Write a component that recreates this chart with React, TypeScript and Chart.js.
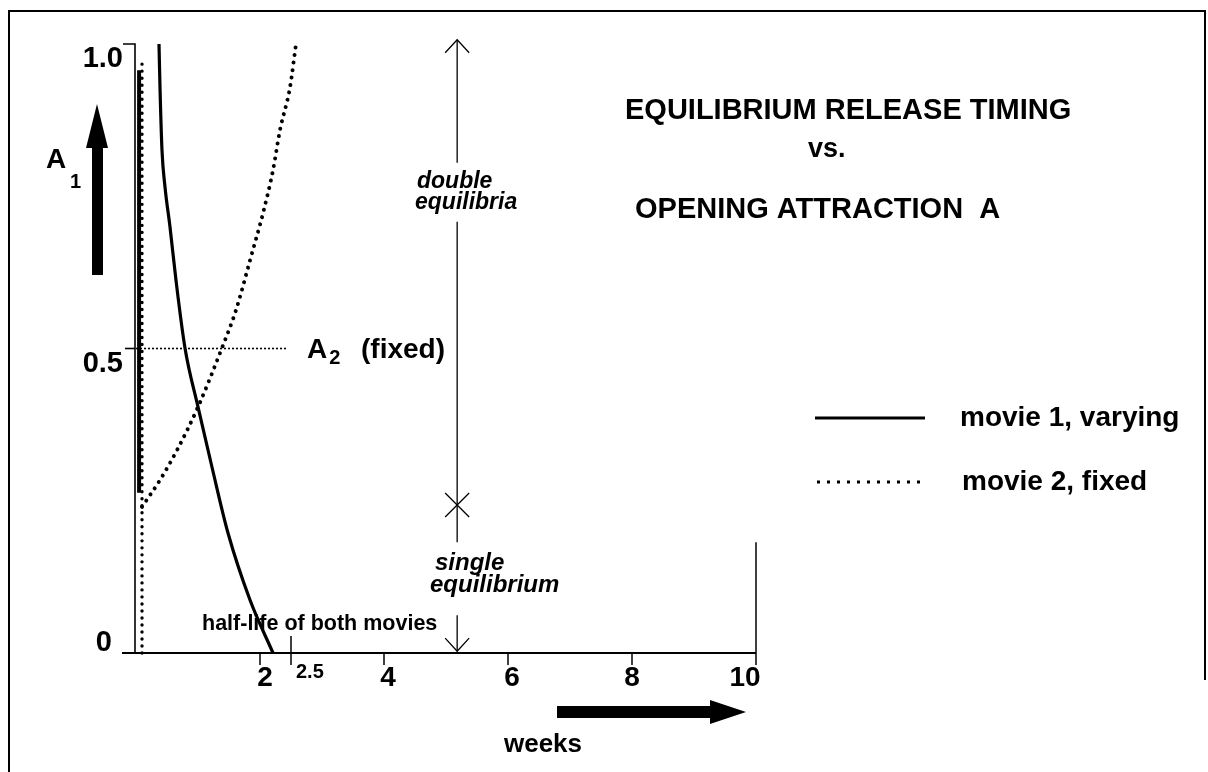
import React, { useEffect, useRef } from "react";
import { Chart, registerables } from "chart.js";

Chart.register(...registerables);

// ---------- data ----------
const xTickValues = [2, 2.5, 4, 6, 8, 10];
const xTickLabels = ["2", "2.5", "4", "6", "8", "10"];
const yTickValues = [0, 0.5, 1.0];
const yTickLabels = ["0", "0.5", "1.0"];

// movie 1 (varying) - solid curve
const movie1Weeks = [0.371, 0.387, 0.419, 0.468, 0.548, 0.645, 0.79, 1.0, 1.226, 1.484, 1.839, 2.21];
const movie1A = [1.0, 0.929, 0.826, 0.765, 0.7, 0.612, 0.501, 0.404, 0.305, 0.197, 0.087, 0.0];
// movie 1 - vertical branch hugging the axis
const movie1BranchWeeks = [0.05, 0.05];
const movie1BranchA = [0.957, 0.263];

// movie 2 (fixed) - dotted curve
const movie2Weeks = [0.097, 0.387, 0.661, 1.0, 1.387, 1.613, 1.839, 2.048, 2.21, 2.323, 2.484, 2.581];
const movie2A = [0.24, 0.284, 0.333, 0.404, 0.501, 0.563, 0.645, 0.722, 0.793, 0.859, 0.929, 1.0];
// movie 2 - vertical dotted stem along the axis
const movie2StemWeeks = [0.097, 0.097];
const movie2StemA = [0.0, 0.969];

// A2 (fixed) reference level
const a2LevelWeeks = [0, 2.435];
const a2LevelA = [0.5, 0.5];

// double / single equilibria marker
const equilibriaWeek = 5.18;
const equilibriaTop = 1.007;
const equilibriaSplit = 0.243;
const equilibriaGaps = [
  [0.805, 0.708],
  [0.182, 0.062],
];
const rightEdgeTop = 0.182;

const legendLabels = ["movie 1, varying", "movie 2, fixed"];
const titleLines = ["EQUILIBRIUM RELEASE TIMING", "vs.", "OPENING ATTRACTION  A"];
const upperZoneLabel = ["double", "equilibria"];
const lowerZoneLabel = ["single", "equilibrium"];
const halfLifeLabel = "half-life of both movies";
const xAxisTitle = "weeks";

// ---------- styles ----------
const FONT = '"Liberation Sans", Arial, Helvetica, sans-serif';
const xLabelDx = [5, 5, 4, 4, 0, -11];
const yLabelRight = [112, 123, 123];
const yLabelDy = [-10, 15, 15];

const toPoints = (xs: number[], ys: number[]) => xs.map((x, i) => ({ x, y: ys[i] }));

const overlay = {
  id: "overlay",
  beforeDatasetsDraw(chart: any) {
    const ctx: CanvasRenderingContext2D = chart.ctx;
    const xs = chart.scales.x;
    const ys = chart.scales.y;
    const X = (v: number) => xs.getPixelForValue(v);
    const Y = (v: number) => ys.getPixelForValue(v);
    ctx.save();
    ctx.strokeStyle = "#000";
    ctx.fillStyle = "#000";

    // frame
    ctx.lineWidth = 2;
    ctx.beginPath();
    ctx.moveTo(9, 772);
    ctx.lineTo(9, 11);
    ctx.lineTo(1205, 11);
    ctx.lineTo(1205, 680);
    ctx.stroke();

    // y axis
    const ax = X(0) - 1;
    ctx.lineWidth = 1.6;
    ctx.beginPath();
    ctx.moveTo(ax, Y(0));
    ctx.lineTo(ax, Y(1));
    ctx.lineTo(ax - 12, Y(1));
    ctx.stroke();
    ctx.beginPath();
    ctx.moveTo(ax - 10, Y(0.5));
    ctx.lineTo(ax, Y(0.5));
    ctx.stroke();

    // x axis
    ctx.lineWidth = 1.8;
    ctx.beginPath();
    ctx.moveTo(X(0) - 14, Y(0));
    ctx.lineTo(X(10), Y(0));
    ctx.stroke();

    ctx.lineWidth = 1.5;
    xTickValues.forEach((v) => {
      const px = X(v);
      let top = Y(0);
      if (v === 2.5) top = Y(0) - 17;
      if (v === 10) top = Y(rightEdgeTop);
      ctx.beginPath();
      ctx.moveTo(px, top);
      ctx.lineTo(px, Y(0) + 12);
      ctx.stroke();
    });

    // equilibria double arrow
    const ex = X(equilibriaWeek);
    ctx.lineWidth = 1.3;
    const segs = [
      [equilibriaTop, equilibriaGaps[0][0]],
      [equilibriaGaps[0][1], equilibriaGaps[1][0]],
      [equilibriaGaps[1][1], 0.003],
    ];
    segs.forEach(([a, b]) => {
      ctx.beginPath();
      ctx.moveTo(ex, Y(a));
      ctx.lineTo(ex, Y(b));
      ctx.stroke();
    });
    const ty = Y(equilibriaTop);
    ctx.beginPath();
    ctx.moveTo(ex - 12, ty + 13);
    ctx.lineTo(ex, ty);
    ctx.lineTo(ex + 12, ty + 13);
    ctx.stroke();
    const by = Y(0.003);
    ctx.beginPath();
    ctx.moveTo(ex - 12, by - 13);
    ctx.lineTo(ex, by);
    ctx.lineTo(ex + 12, by - 13);
    ctx.stroke();
    const sy = Y(equilibriaSplit);
    ctx.beginPath();
    ctx.moveTo(ex - 12, sy - 12);
    ctx.lineTo(ex + 12, sy + 12);
    ctx.moveTo(ex + 12, sy - 12);
    ctx.lineTo(ex - 12, sy + 12);
    ctx.stroke();

    ctx.restore();
  },
  afterDatasetsDraw(chart: any) {
    const ctx: CanvasRenderingContext2D = chart.ctx;
    const xs = chart.scales.x;
    const ys = chart.scales.y;
    const X = (v: number) => xs.getPixelForValue(v);
    const Y = (v: number) => ys.getPixelForValue(v);
    ctx.save();
    ctx.fillStyle = "#000";
    ctx.strokeStyle = "#000";
    ctx.textBaseline = "middle";

    const text = (s: string, x: number, y: number, font: string, align: CanvasTextAlign = "left") => {
      ctx.font = font;
      ctx.textAlign = align;
      ctx.fillText(s, x, y);
    };

    // y tick labels
    yTickValues.forEach((v, i) => {
      text(yTickLabels[i], yLabelRight[i], Y(v) + yLabelDy[i], `bold 29px ${FONT}`, "right");
    });

    // x tick labels
    xTickValues.forEach((v, i) => {
      if (v === 2.5) {
        text(xTickLabels[i], X(v) + xLabelDx[i], Y(0) + 19, `bold 20px ${FONT}`, "left");
      } else {
        text(xTickLabels[i], X(v) + xLabelDx[i], Y(0) + 25, `bold 28px ${FONT}`, "center");
      }
    });

    // half-life label
    text(halfLifeLabel, 202, 624, `bold 21.5px ${FONT}`, "left");

    // A1 axis label + arrow
    text("A", 56, 160, `bold 28px ${FONT}`, "center");
    text("1", 70, 182, `bold 20px ${FONT}`, "left");
    ctx.beginPath();
    ctx.moveTo(97, 104);
    ctx.lineTo(108, 148);
    ctx.lineTo(103, 148);
    ctx.lineTo(103, 275);
    ctx.lineTo(92, 275);
    ctx.lineTo(92, 148);
    ctx.lineTo(86, 148);
    ctx.closePath();
    ctx.fill();

    // A2 (fixed)
    const ay = Y(0.5) + 2;
    text("A", 307, ay, `bold 28px ${FONT}`, "left");
    ctx.font = `bold 28px ${FONT}`;
    const aw = ctx.measureText("A").width;
    text("2", 307 + aw + 2, ay + 8, `bold 20px ${FONT}`, "left");
    text("(fixed)", 445, ay, `bold 28px ${FONT}`, "right");

    // zone labels
    text(upperZoneLabel[0], 417, 182, `italic bold 23px ${FONT}`, "left");
    text(upperZoneLabel[1], 415, 203, `italic bold 23px ${FONT}`, "left");
    text(lowerZoneLabel[0], 435, 563, `italic bold 24px ${FONT}`, "left");
    text(lowerZoneLabel[1], 430, 585, `italic bold 24px ${FONT}`, "left");

    // title
    text(titleLines[0], 625, 111, `bold 29px ${FONT}`, "left");
    text(titleLines[1], 808, 150, `bold 27px ${FONT}`, "left");
    text(titleLines[2], 635, 210, `bold 29px ${FONT}`, "left");

    // legend
    const legY = [418, 482];
    ctx.lineWidth = 3;
    ctx.setLineDash([]);
    ctx.beginPath();
    ctx.moveTo(815, legY[0]);
    ctx.lineTo(925, legY[0]);
    ctx.stroke();
    ctx.setLineDash([3, 7]);
    ctx.beginPath();
    ctx.moveTo(817, legY[1]);
    ctx.lineTo(920, legY[1]);
    ctx.stroke();
    ctx.setLineDash([]);
    text(legendLabels[0], 960, legY[0], `bold 28px ${FONT}`, "left");
    text(legendLabels[1], 962, legY[1], `bold 28px ${FONT}`, "left");

    // weeks label + arrow
    text(xAxisTitle, 543, 745, `bold 26px ${FONT}`, "center");
    ctx.fillRect(557, 706, 155, 12);
    ctx.beginPath();
    ctx.moveTo(710, 700);
    ctx.lineTo(746, 712);
    ctx.lineTo(710, 724);
    ctx.closePath();
    ctx.fill();

    ctx.restore();
  },
};

export default function App() {
  const ref = useRef<HTMLCanvasElement>(null);
  useEffect(() => {
    if (!ref.current) return;
    const chart = new Chart(ref.current, {
      type: "scatter",
      data: {
        datasets: [
          {
            label: legendLabels[0],
            data: toPoints(movie1Weeks, movie1A),
            showLine: true,
            borderColor: "#000",
            borderWidth: 3.2,
            pointRadius: 0,
            cubicInterpolationMode: "monotone",
            clip: false,
          },
          {
            label: "movie 1 branch",
            data: toPoints(movie1BranchWeeks, movie1BranchA),
            showLine: true,
            borderColor: "#000",
            borderWidth: 4,
            pointRadius: 0,
            clip: false,
          },
          {
            label: legendLabels[1],
            data: toPoints(movie2Weeks, movie2A),
            showLine: true,
            borderColor: "#000",
            borderWidth: 4,
            borderDash: [0.01, 7.5],
            borderCapStyle: "round",
            pointRadius: 0,
            cubicInterpolationMode: "monotone",
            clip: false,
          },
          {
            label: "movie 2 stem",
            data: toPoints(movie2StemWeeks, movie2StemA),
            showLine: true,
            borderColor: "#000",
            borderWidth: 3.4,
            borderDash: [0.01, 7],
            borderCapStyle: "round",
            pointRadius: 0,
            clip: false,
          },
          {
            label: "A2 fixed",
            data: toPoints(a2LevelWeeks, a2LevelA),
            showLine: true,
            borderColor: "#000",
            borderWidth: 1.6,
            borderDash: [2, 2],
            pointRadius: 0,
            clip: false,
          },
        ],
      } as any,
      options: {
        animation: false,
        responsive: false,
        events: [],
        layout: { padding: { left: 136, right: 452, top: 44, bottom: 119 } },
        scales: {
          x: { type: "linear", min: 0, max: 10, display: false },
          y: { type: "linear", min: 0, max: 1, display: false },
        },
        plugins: { legend: { display: false }, tooltip: { enabled: false } },
      },
      plugins: [overlay],
    });
    return () => chart.destroy();
  }, []);
  return (
    <div style={{ position: "fixed", left: 0, top: 0, width: 1208, height: 772, background: "#fff" }}>
      <canvas ref={ref} width={1208} height={772} style={{ display: "block", width: 1208, height: 772 }} />
    </div>
  );
}
